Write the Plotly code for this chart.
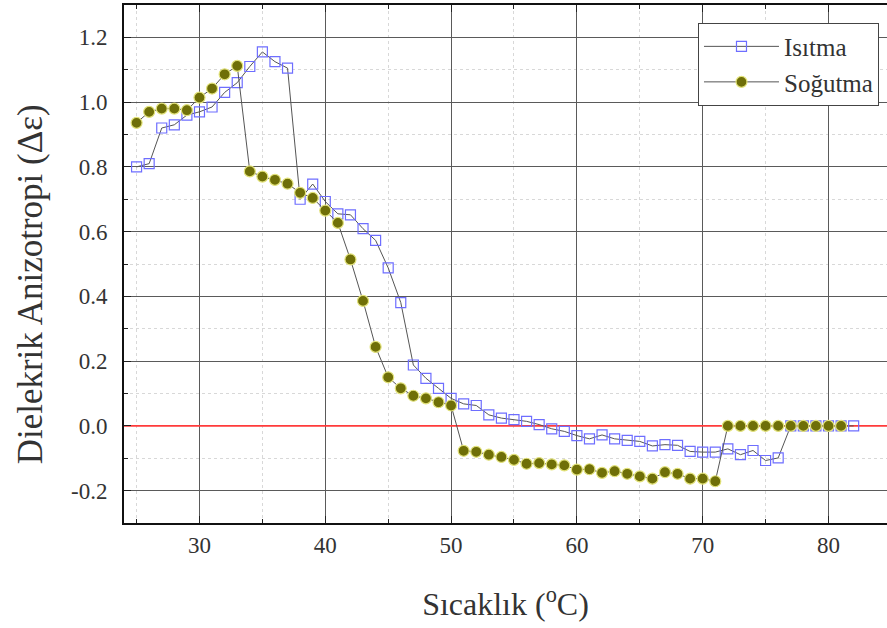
import plotly.graph_objects as go

# Heating (Isıtma) data
heat_T = list(range(25, 83))
heat_v = [0.80, 0.81, 0.92, 0.93, 0.96, 0.97, 0.985, 1.03, 1.06, 1.11,
          1.155, 1.125, 1.105, 0.70, 0.747, 0.693, 0.655, 0.652, 0.609, 0.573,
          0.488, 0.381, 0.188, 0.147, 0.116, 0.085, 0.068, 0.063, 0.034, 0.024,
          0.019, 0.014, 0.004, -0.009, -0.017, -0.030, -0.040, -0.028, -0.040, -0.045,
          -0.048, -0.062, -0.058, -0.060, -0.079, -0.081, -0.081, -0.071, -0.089, -0.076,
          -0.107, -0.099, 0.0, 0.0, 0.0, 0.0, 0.0, 0.0]

# Cooling (Soğutma) data
cool_T = list(range(25, 82))
cool_v = [0.936, 0.970, 0.980, 0.980, 0.975, 1.014, 1.042, 1.086, 1.112, 0.786,
          0.770, 0.760, 0.748, 0.720, 0.704, 0.665, 0.627, 0.514, 0.386, 0.244,
          0.150, 0.116, 0.093, 0.085, 0.073, 0.063, -0.077, -0.080, -0.089, -0.096,
          -0.105, -0.117, -0.115, -0.119, -0.122, -0.135, -0.134, -0.145, -0.140, -0.148,
          -0.156, -0.163, -0.143, -0.148, -0.163, -0.163, -0.171, 0.0, 0.0, 0.0,
          0.0, 0.0, 0.0, 0.0, 0.0, 0.0, 0.0]

# Axis ticks
x_tickvals = [30, 40, 50, 60, 70, 80]
x_ticktext = ["30", "40", "50", "60", "70", "80"]
y_tickvals = [-0.2, 0.0, 0.2, 0.4, 0.6, 0.8, 1.0, 1.2]
y_ticktext = ["-0.2", "0.0", "0.2", "0.4", "0.6", "0.8", "1.0", "1.2"]

x_range = [24, 84.65]
y_range = [-0.3, 1.3]
ref_level = 0.0
FONT = "Liberation Serif"


def styled(labels):
    return ["<span style='font-family:Liberation Serif;font-size:23px'>%s</span>" % t
            for t in labels]


fig = go.Figure()
# red reference line at zero (drawn first so markers sit on top)
fig.add_trace(go.Scatter(
    x=x_range, y=[ref_level, ref_level], mode="lines", showlegend=False,
    hoverinfo="skip", line=dict(color="#ff3b3b", width=1.6),
))
fig.add_trace(go.Scatter(
    x=heat_T, y=heat_v, name="Isıtma", mode="lines+markers",
    line=dict(color="#555555", width=1),
    marker=dict(symbol="square-open", size=10, color="#6e6eff",
                line=dict(width=1.2, color="#6e6eff")),
))
fig.add_trace(go.Scatter(
    x=cool_T, y=cool_v, name="Soğutma", mode="lines+markers",
    line=dict(color="#555555", width=1),
    marker=dict(symbol="circle", size=11, color="#6f6f08",
                line=dict(width=1.2, color="#e2e27a")),
))

tick_font = dict(family=FONT, size=23, color="#333333")

fig.update_layout(
    xaxis=dict(
        range=x_range, tickmode="array", tickvals=x_tickvals, ticktext=styled(x_ticktext),
        mirror="ticks", showline=True, linecolor="#111111", linewidth=2,
        ticks="inside", ticklen=7, tickcolor="#222222", tickwidth=1,
        showgrid=True, gridcolor="#5a5a5a", gridwidth=1, zeroline=False,
        tickfont=tick_font,
        minor=dict(dtick=5, tick0=0, showgrid=True, gridcolor="#d8d8d8",
                   griddash="dot", ticks="inside", ticklen=4, tickcolor="#222222"),
        title=dict(text="Sıcaklık (<sup>o</sup>C)",
                   font=dict(family=FONT, size=32, color="#333333"), standoff=36),
    ),
    yaxis=dict(
        range=y_range, tickmode="array", tickvals=y_tickvals, ticktext=styled(y_ticktext),
        mirror=False, showline=True, linecolor="#111111", linewidth=2,
        ticks="inside", ticklen=7, tickcolor="#222222", tickwidth=1,
        showgrid=True, gridcolor="#5a5a5a", gridwidth=1, zeroline=False,
        tickfont=tick_font, ticklabelstandoff=10,
        minor=dict(dtick=0.1, tick0=0, showgrid=True, gridcolor="#d8d8d8",
                   griddash="dot", ticks="inside", ticklen=4, tickcolor="#222222"),
    ),
)

fig.add_annotation(
    text="Dielekrik Anizotropi (Δε)", textangle=-90,
    xref="paper", yref="paper", x=-0.123, y=0.461,
    xanchor="center", yanchor="middle", showarrow=False,
    font=dict(family=FONT, size=35, color="#333333"),
)

fig.update_layout(
    width=887, height=628,
    margin=dict(l=124, r=0, t=5, b=105),
    plot_bgcolor="white", paper_bgcolor="white",
    font=dict(family=FONT, color="#333333"),
    legend=dict(
        x=0.9895, y=0.966, xanchor="right", yanchor="top",
        bgcolor="white", bordercolor="#444444", borderwidth=1,
        font=dict(family=FONT, size=25, color="#333333"),
        itemwidth=75, tracegroupgap=0,
    ),
)

fig.write_html("out.html")
